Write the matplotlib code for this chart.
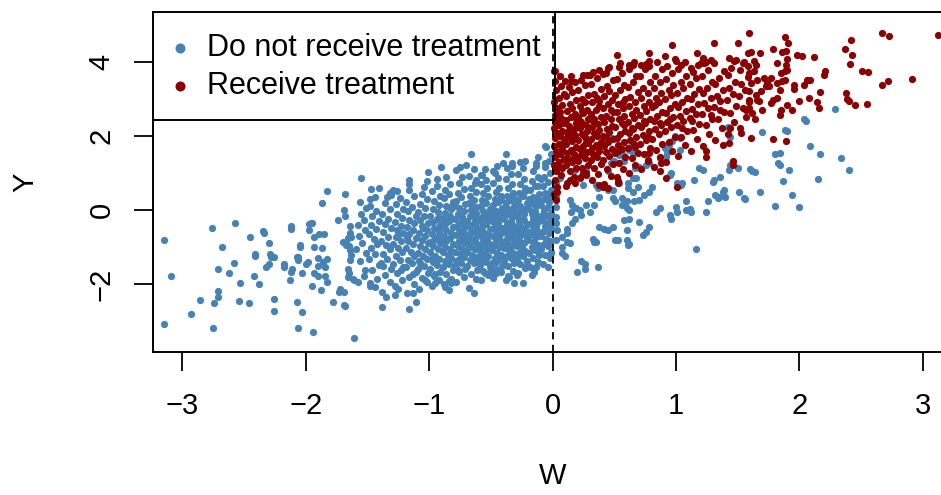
import numpy as np
import matplotlib
matplotlib.use('Agg')
import matplotlib.pyplot as plt

plt.rcParams['font.family'] = ['Liberation Sans', 'DejaVu Sans']

# ---------------------------------------------------------
# DATA ((W, Y) pairs)
# ---------------------------------------------------------
blue_left_tail = [
    (-3.15, -0.80), (-2.76, -0.48), (-2.57, -0.35), (-2.68, -1.01), (-2.45, -0.73), (-2.34, -0.61),
    (-2.30, -0.88), (-2.12, -0.50), (-2.05, -1.01), (-1.83, 0.51), (-1.68, 0.43), (-1.87, 0.19),
    (-1.69, -0.01), (-1.68, -0.17), (-1.74, -0.27), (-1.97, -0.38), (-1.95, -0.34), (-1.97, -0.55),
    (-1.93, -0.72), (-1.89, -0.66), (-1.85, -0.64), (-1.64, -0.44), (-1.64, -0.63), (-1.66, -0.76),
    (-1.70, -0.85), (-1.67, -0.95), (-1.63, -0.72), (-1.93, -1.01), (-1.87, -1.03),
    (-3.09, -1.78), (-3.15, -3.08), (-2.93, -2.80), (-2.86, -2.42), (-2.74, -2.52), (-2.71, -2.34),
    (-2.71, -2.19), (-2.71, -1.60), (-2.58, -1.43), (-2.62, -1.70), (-2.53, -1.98), (-2.54, -2.45),
    (-2.46, -2.50), (-2.75, -3.18), (-2.41, -1.25), (-2.42, -1.77), (-2.38, -1.99), (-2.32, -1.54),
    (-2.30, -1.46), (-2.28, -1.27), (-2.26, -1.27), (-2.26, -2.40), (-2.26, -2.73), (-2.18, -1.53),
    (-2.13, -1.89), (-2.12, -1.66), (-2.11, -1.60), (-2.07, -1.26), (-2.06, -1.35), (-2.07, -2.47),
    (-2.03, -2.75), (-2.06, -3.19), (-1.94, -3.30), (-2.03, -1.69), (-2.00, -1.46), (-1.98, -1.40),
    (-1.95, -2.04), (-1.93, -1.69), (-1.90, -1.52), (-1.90, -1.77), (-1.88, -2.17), (-1.90, -1.30),
    (-1.86, -1.41), (-1.84, -1.53), (-1.83, -1.33), (-1.84, -1.77), (-1.83, -1.93), (-1.78, -2.47),
    (-1.72, -2.14), (-1.73, -2.20), (-1.69, -2.20), (-1.69, -2.55), (-1.68, -2.60), (-1.61, -3.45),
    (-1.67, -0.90), (-1.65, -0.98), (-1.64, -1.07), (-1.63, -1.20), (-1.66, -1.60), (-1.65, -1.70),
    (-1.64, -1.35), (-1.66, -1.80), (-1.62, -1.85), (-2.35, -0.57), (-2.29, -1.19), (-2.41, -1.19),
    (-2.06, -1.28), (-2.05, -0.94), (-2.12, -0.44), (-1.96, -0.35), (-2.18, -1.46),
]

blue_core = [
    (-1.58, -1.95), (-1.52, -1.62), (-1.56, -1.38), (-1.51, -1.15), (-1.59, -1.05), (-1.54, -0.88),
    (-1.57, -0.71), (-1.52, -0.55), (-1.58, -0.40), (-1.53, -0.28), (-1.55, -0.12), (-1.51, 0.05),
    (-1.56, 0.22), (-1.53, -1.78),
    (-1.48, -2.05), (-1.42, -1.85), (-1.46, -1.62), (-1.41, -1.48), (-1.49, -1.31), (-1.44, -1.19),
    (-1.47, -1.02), (-1.42, -0.93), (-1.45, -0.78), (-1.49, -0.65), (-1.43, -0.52), (-1.47, -0.41),
    (-1.41, -0.30), (-1.46, -0.16), (-1.43, -0.03), (-1.48, 0.12), (-1.44, 0.35), (-1.41, 0.58),
    (-1.38, -2.22), (-1.32, -1.95), (-1.36, -1.74), (-1.31, -1.58), (-1.39, -1.44), (-1.34, -1.33),
    (-1.37, -1.18), (-1.32, -1.06), (-1.35, -0.94), (-1.39, -0.83), (-1.33, -0.72), (-1.37, -0.60),
    (-1.31, -0.48), (-1.36, -0.37), (-1.33, -0.24), (-1.38, -0.11), (-1.32, 0.02), (-1.36, 0.18),
    (-1.31, 0.40), (-1.37, -1.52),
    (-1.28, -2.05), (-1.22, -1.88), (-1.26, -1.70), (-1.21, -1.55), (-1.29, -1.45), (-1.24, -1.36),
    (-1.27, -1.24), (-1.22, -1.13), (-1.25, -1.02), (-1.29, -0.92), (-1.23, -0.84), (-1.27, -0.73),
    (-1.21, -0.63), (-1.26, -0.54), (-1.23, -0.43), (-1.28, -0.33), (-1.22, -0.22), (-1.26, -0.10),
    (-1.21, 0.03), (-1.27, 0.15), (-1.24, 0.32), (-1.29, 0.55), (-1.23, -1.62), (-1.25, -0.68),
    (-1.18, -2.25), (-1.12, -2.00), (-1.16, -1.80), (-1.11, -1.66), (-1.19, -1.55), (-1.14, -1.44),
    (-1.17, -1.34), (-1.12, -1.23), (-1.15, -1.12), (-1.19, -1.02), (-1.13, -0.93), (-1.17, -0.84),
    (-1.11, -0.75), (-1.16, -0.65), (-1.13, -0.55), (-1.18, -0.46), (-1.12, -0.36), (-1.16, -0.26),
    (-1.11, -0.15), (-1.17, -0.04), (-1.14, 0.08), (-1.19, 0.22), (-1.12, 0.38), (-1.16, 0.55),
    (-1.13, -1.72), (-1.18, -0.72),
    (-1.08, -2.12), (-1.02, -1.95), (-1.06, -1.82), (-1.01, -1.70), (-1.09, -1.60), (-1.04, -1.51),
    (-1.07, -1.42), (-1.02, -1.33), (-1.05, -1.24), (-1.09, -1.15), (-1.03, -1.06), (-1.07, -0.97),
    (-1.01, -0.89), (-1.06, -0.80), (-1.03, -0.71), (-1.08, -0.62), (-1.02, -0.53), (-1.06, -0.44),
    (-1.01, -0.35), (-1.07, -0.26), (-1.04, -0.16), (-1.09, -0.06), (-1.03, 0.05), (-1.07, 0.16),
    (-1.02, 0.29), (-1.06, 0.44), (-1.04, 0.62), (-1.08, -1.38), (-1.05, -0.49), (-1.03, -1.88),
    (-0.98, -2.05), (-0.92, -1.90), (-0.96, -1.78), (-0.91, -1.67), (-0.99, -1.58), (-0.94, -1.49),
    (-0.97, -1.40), (-0.92, -1.31), (-0.95, -1.23), (-0.99, -1.14), (-0.93, -1.06), (-0.97, -0.98),
    (-0.91, -0.90), (-0.96, -0.82), (-0.93, -0.74), (-0.98, -0.66), (-0.92, -0.58), (-0.96, -0.49),
    (-0.91, -0.41), (-0.97, -0.33), (-0.94, -0.24), (-0.99, -0.15), (-0.93, -0.06), (-0.97, 0.04),
    (-0.92, 0.14), (-0.96, 0.25), (-0.91, 0.37), (-0.98, 0.50), (-0.94, 0.66), (-0.95, -1.72),
    (-0.93, -0.52), (-0.99, -0.87), (-0.92, -0.18), (-0.97, -1.27),
    (-0.88, -2.00), (-0.82, -1.85), (-0.86, -1.72), (-0.81, -1.62), (-0.89, -1.54), (-0.84, -1.46),
    (-0.87, -1.38), (-0.82, -1.30), (-0.85, -1.22), (-0.89, -1.14), (-0.83, -1.06), (-0.87, -0.99),
    (-0.81, -0.91), (-0.86, -0.84), (-0.83, -0.76), (-0.88, -0.69), (-0.82, -0.61), (-0.86, -0.54),
    (-0.81, -0.46), (-0.87, -0.39), (-0.84, -0.31), (-0.89, -0.23), (-0.83, -0.15), (-0.87, -0.07),
    (-0.82, 0.02), (-0.86, 0.11), (-0.81, 0.21), (-0.88, 0.31), (-0.84, 0.42), (-0.87, 0.55),
    (-0.83, 0.70), (-0.86, 0.88), (-0.84, -1.92), (-0.88, -0.46), (-0.82, -1.10), (-0.86, -0.27),
    (-0.89, -0.80), (-0.83, 0.08),
    (-0.78, -1.95), (-0.72, -1.80), (-0.76, -1.68), (-0.71, -1.58), (-0.79, -1.50), (-0.74, -1.42),
    (-0.77, -1.34), (-0.72, -1.27), (-0.75, -1.19), (-0.79, -1.12), (-0.73, -1.04), (-0.77, -0.97),
    (-0.71, -0.90), (-0.76, -0.83), (-0.73, -0.75), (-0.78, -0.68), (-0.72, -0.61), (-0.76, -0.54),
    (-0.71, -0.47), (-0.77, -0.40), (-0.74, -0.32), (-0.79, -0.25), (-0.73, -0.18), (-0.77, -0.10),
    (-0.72, -0.02), (-0.76, 0.06), (-0.71, 0.15), (-0.78, 0.24), (-0.74, 0.34), (-0.77, 0.45),
    (-0.72, 0.57), (-0.76, 0.72), (-0.73, 0.90), (-0.78, -1.38), (-0.72, -0.86), (-0.75, -0.36),
    (-0.79, 0.10), (-0.71, -1.15), (-0.74, -0.58), (-0.77, -1.62),
    (-0.68, -2.10), (-0.62, -1.86), (-0.66, -1.72), (-0.61, -1.62), (-0.69, -1.52), (-0.64, -1.44),
    (-0.67, -1.36), (-0.62, -1.28), (-0.65, -1.20), (-0.69, -1.13), (-0.63, -1.06), (-0.67, -0.99),
    (-0.61, -0.92), (-0.66, -0.85), (-0.63, -0.78), (-0.68, -0.71), (-0.62, -0.64), (-0.66, -0.57),
    (-0.61, -0.50), (-0.67, -0.43), (-0.64, -0.36), (-0.69, -0.29), (-0.63, -0.22), (-0.67, -0.15),
    (-0.62, -0.07), (-0.66, 0.01), (-0.61, 0.09), (-0.68, 0.18), (-0.64, 0.27), (-0.67, 0.37),
    (-0.62, 0.48), (-0.66, 0.60), (-0.63, 0.74), (-0.68, 0.92), (-0.64, 1.10), (-0.61, -1.40),
    (-0.69, -0.82), (-0.63, -0.40), (-0.65, 0.12), (-0.68, -1.00), (-0.62, -0.18),
    (-0.58, -1.90), (-0.52, -1.75), (-0.56, -1.64), (-0.51, -1.55), (-0.59, -1.47), (-0.54, -1.40),
    (-0.57, -1.32), (-0.52, -1.25), (-0.55, -1.18), (-0.59, -1.11), (-0.53, -1.04), (-0.57, -0.97),
    (-0.51, -0.91), (-0.56, -0.84), (-0.53, -0.77), (-0.58, -0.71), (-0.52, -0.64), (-0.56, -0.58),
    (-0.51, -0.51), (-0.57, -0.45), (-0.54, -0.38), (-0.59, -0.31), (-0.53, -0.25), (-0.57, -0.18),
    (-0.52, -0.11), (-0.56, -0.04), (-0.51, 0.03), (-0.58, 0.11), (-0.54, 0.19), (-0.57, 0.28),
    (-0.52, 0.37), (-0.56, 0.47), (-0.53, 0.58), (-0.58, 0.70), (-0.54, 0.82), (-0.57, 0.95),
    (-0.55, 1.10), (-0.51, -1.70), (-0.58, -1.20), (-0.53, -0.88), (-0.59, -0.50), (-0.52, -0.20),
    (-0.55, 0.22), (-0.56, -1.34),
    (-0.48, -1.82), (-0.42, -1.68), (-0.46, -1.58), (-0.41, -1.50), (-0.49, -1.43), (-0.44, -1.36),
    (-0.47, -1.29), (-0.42, -1.22), (-0.45, -1.15), (-0.49, -1.08), (-0.43, -1.01), (-0.47, -0.95),
    (-0.41, -0.88), (-0.46, -0.82), (-0.43, -0.75), (-0.48, -0.69), (-0.42, -0.62), (-0.46, -0.56),
    (-0.41, -0.49), (-0.47, -0.43), (-0.44, -0.36), (-0.49, -0.30), (-0.43, -0.23), (-0.47, -0.16),
    (-0.42, -0.09), (-0.46, -0.02), (-0.41, 0.05), (-0.48, 0.13), (-0.44, 0.21), (-0.47, 0.30),
    (-0.42, 0.39), (-0.46, 0.49), (-0.43, 0.60), (-0.48, 0.72), (-0.44, 0.85), (-0.47, 1.00),
    (-0.45, 1.18), (-0.41, -1.28), (-0.48, -0.98), (-0.43, -0.52), (-0.49, -0.08), (-0.42, 0.28),
    (-0.45, -0.70), (-0.46, -1.40),
    (-0.38, -1.90), (-0.32, -1.64), (-0.36, -1.52), (-0.31, -1.44), (-0.39, -1.37), (-0.34, -1.30),
    (-0.37, -1.23), (-0.32, -1.16), (-0.35, -1.09), (-0.39, -1.02), (-0.33, -0.96), (-0.37, -0.89),
    (-0.31, -0.83), (-0.36, -0.76), (-0.33, -0.70), (-0.38, -0.63), (-0.32, -0.57), (-0.36, -0.50),
    (-0.31, -0.44), (-0.37, -0.37), (-0.34, -0.31), (-0.39, -0.24), (-0.33, -0.18), (-0.37, -0.11),
    (-0.32, -0.04), (-0.36, 0.03), (-0.31, 0.11), (-0.38, 0.19), (-0.34, 0.28), (-0.37, 0.37),
    (-0.32, 0.47), (-0.36, 0.58), (-0.33, 0.70), (-0.38, 0.83), (-0.34, 0.97), (-0.37, 1.12),
    (-0.33, 1.28), (-0.31, -1.20), (-0.38, -0.82), (-0.33, -0.44), (-0.39, 0.00), (-0.32, 0.36),
    (-0.35, -0.60), (-0.36, -1.78),
    (-0.28, -1.70), (-0.22, -1.56), (-0.26, -1.46), (-0.21, -1.38), (-0.29, -1.31), (-0.24, -1.24),
    (-0.27, -1.17), (-0.22, -1.10), (-0.25, -1.03), (-0.29, -0.96), (-0.23, -0.90), (-0.27, -0.83),
    (-0.21, -0.76), (-0.26, -0.70), (-0.23, -0.63), (-0.28, -0.57), (-0.22, -0.50), (-0.26, -0.44),
    (-0.21, -0.37), (-0.27, -0.31), (-0.24, -0.24), (-0.29, -0.17), (-0.23, -0.10), (-0.27, -0.04),
    (-0.22, 0.03), (-0.26, 0.11), (-0.21, 0.19), (-0.28, 0.28), (-0.24, 0.37), (-0.27, 0.47),
    (-0.22, 0.58), (-0.26, 0.70), (-0.23, 0.83), (-0.28, 0.97), (-0.24, 1.12), (-0.21, -1.48),
    (-0.28, -0.70), (-0.23, -0.28), (-0.29, 0.16), (-0.22, 0.50), (-0.25, -0.90), (-0.26, 1.30),
    (-0.18, -1.55), (-0.12, -1.40), (-0.16, -1.30), (-0.11, -1.22), (-0.19, -1.15), (-0.14, -1.08),
    (-0.17, -1.01), (-0.12, -0.94), (-0.15, -0.87), (-0.19, -0.80), (-0.13, -0.73), (-0.17, -0.66),
    (-0.11, -0.60), (-0.16, -0.53), (-0.13, -0.46), (-0.18, -0.39), (-0.12, -0.32), (-0.16, -0.25),
    (-0.11, -0.18), (-0.17, -0.11), (-0.14, -0.04), (-0.19, 0.03), (-0.13, 0.10), (-0.17, 0.18),
    (-0.12, 0.26), (-0.16, 0.35), (-0.11, 0.44), (-0.18, 0.54), (-0.14, 0.65), (-0.17, 0.77),
    (-0.12, 0.90), (-0.16, 1.04), (-0.13, 1.18), (-0.11, -0.98), (-0.18, -0.58), (-0.13, -0.14),
    (-0.19, 0.30), (-0.12, 0.66), (-0.15, -1.68), (-0.16, -0.36),
    (-0.08, -1.45), (-0.02, -1.30), (-0.06, -1.20), (-0.01, -1.12), (-0.09, -1.05), (-0.04, -0.98),
    (-0.07, -0.91), (-0.02, -0.84), (-0.05, -0.77), (-0.09, -0.70), (-0.03, -0.63), (-0.07, -0.56),
    (-0.01, -0.49), (-0.06, -0.42), (-0.03, -0.35), (-0.08, -0.28), (-0.02, -0.21), (-0.06, -0.14),
    (-0.01, -0.07), (-0.07, 0.00), (-0.04, 0.07), (-0.09, 0.14), (-0.03, 0.21), (-0.07, 0.29),
    (-0.02, 0.37), (-0.06, 0.46), (-0.01, 0.55), (-0.08, 0.65), (-0.04, 0.76), (-0.07, 0.88),
    (-0.02, 1.01), (-0.06, 1.15), (-0.03, 1.32), (-0.01, 1.52), (-0.05, 1.70), (-0.02, -0.60),
    (-0.08, -0.10), (-0.03, 0.40), (-0.09, 0.84), (-0.04, -1.55),
]

blue_core_edges = [
    (-1.55, 0.87), (-1.47, 0.56), (-1.48, 0.29), (-1.34, 0.36), (-1.32, 0.45), (-1.26, 0.51),
    (-1.16, 0.81), (-1.16, 0.69), (-1.01, 1.02), (-1.02, 0.78), (-0.94, 0.83), (-0.90, 1.17),
    (-0.78, 1.08), (-0.75, 1.17), (-0.70, 1.22), (-0.66, 1.52), (-0.58, 0.95), (-0.62, 0.81),
    (-0.48, 1.06), (-0.40, 1.26), (-0.38, 1.51), (-0.33, 1.19), (-0.22, 1.33), (-0.12, 1.44),
    (-0.06, 1.26), (-0.06, 1.73), (-0.13, 1.26),
    (-1.38, -2.61), (-1.35, -2.34), (-1.28, -2.30), (-1.16, -2.68), (-1.11, -2.48), (-1.13, -2.25),
    (-1.25, -2.12), (-0.95, -1.96), (-0.84, -2.16), (-0.87, -2.07), (-0.82, -1.98), (-0.64, -2.25),
    (-0.31, -1.98), (-0.24, -1.98), (-0.35, -1.80), (-0.29, -1.76), (-0.17, -1.76), (-0.13, -1.53),
    (-0.55, -1.71), (-0.51, -1.67), (-0.46, -1.71), (-1.48, -1.98), (-1.44, -2.07), (-1.61, -1.89),
]

blue_right = [
    (0.18, 1.40), (0.18, 1.08), (0.06, 0.86), (0.02, 0.68), (0.02, 0.49), (0.22, 0.90), (0.27, 1.04),
    (0.25, 0.68), (0.35, 0.68), (0.37, 0.59), (0.45, 0.54), (0.38, 0.36), (0.49, 0.32), (0.51, 0.23),
    (0.56, 0.14), (0.14, 0.27), (0.16, 0.14), (0.19, 0.05), (0.15, -0.05), (0.18, -0.23), (0.16, -0.36),
    (0.12, -0.50), (0.12, -0.63), (0.08, -0.72), (0.08, -0.99), (0.22, 0.00), (0.23, -0.14), (0.27, 0.14),
    (0.30, -0.05), (0.34, 0.14), (0.03, 0.76), (0.03, 0.36), (0.03, 0.09), (0.03, -0.18), (0.03, -0.36),
    (0.04, -0.54), (0.03, -0.81), (0.38, -0.45), (0.42, -0.50), (0.45, -0.54), (0.49, -0.45),
    (0.35, -0.86), (0.51, -0.81), (0.60, -0.54), (0.60, -0.81), (0.61, -0.95), (0.58, -0.27),
    (0.62, -0.23), (0.70, -0.32), (0.78, -0.45), (0.76, -0.59), (0.73, -0.68), (0.60, 0.05),
    (0.62, 0.00), (0.66, 0.23), (0.70, 0.27), (0.74, 0.41), (0.78, 0.49), (0.81, 0.63), (0.84, -0.05),
    (0.87, 0.05), (0.95, -0.14), (0.96, -0.23), (1.00, 0.09), (1.01, -0.05), (1.08, 0.23), (1.08, 0.00),
    (1.12, -0.05), (1.16, -1.04), (1.24, -0.05), (1.26, 0.23), (1.32, 0.41), (1.34, 0.32), (1.38, 0.49),
    (1.39, 0.54), (1.35, 0.36), (1.40, 0.36), (1.51, 0.49), (1.55, 0.32), (1.30, 0.76), (1.31, 0.81),
    (1.36, 0.90), (1.15, 0.81), (1.19, 1.13), (1.22, 1.08), (1.43, 1.08), (1.44, 1.22), (1.50, 1.13),
    (1.01, 0.72), (1.04, 0.68), (1.05, 0.72), (0.95, 0.95), (0.96, 0.99), (0.92, 1.44), (1.03, 1.94),
    (0.49, 0.54), (0.54, 0.72), (0.61, 0.72), (0.65, 0.86), (0.68, 0.86), (0.69, 0.63), (0.61, 0.59),
    (0.65, 0.49), (0.56, 0.32), (0.60, 0.23), (0.45, 1.04), (0.47, 1.26), (0.50, 1.31), (0.54, 1.49),
    (0.58, 1.31), (0.64, 1.80), (0.65, 1.53), (0.70, 1.17), (0.76, 1.22), (0.78, 1.26), (0.87, 1.40),
    (0.91, 1.67), (0.93, 1.53), (0.97, 1.85), (1.03, 1.62), (-0.01, -1.15), (0.08, -1.17), (0.10, -1.24),
    (0.12, -0.86), (0.14, -0.90), (0.23, -1.37), (0.20, -1.67), (0.26, -1.58), (0.37, -1.55),
    (0.34, -0.86), (0.53, -0.81), (0.62, -0.93), (0.33, -0.78), (0.26, -1.46),
    (2.29, 2.72), (2.05, 2.41), (1.70, 2.10), (1.90, 2.12), (2.09, 1.73), (2.17, 1.51), (2.34, 1.39),
    (2.40, 1.07), (1.80, 1.51), (1.84, 1.20), (1.92, 1.07), (1.60, 1.11), (1.62, 1.06), (1.64, 1.03),
    (1.87, 0.78), (2.15, 0.84), (1.68, 0.49), (1.94, 0.40), (1.56, 0.29), (1.80, 0.11), (2.00, 0.07),
    (0.48, 1.93), (0.62, 1.62), (0.57, 1.49), (0.67, 1.13), (0.94, 1.75), (0.99, 2.00), (1.42, 2.24),
    (1.44, 1.96), (1.88, 2.16), (2.04, 2.46), (1.11, 0.04), (1.83, 1.27), (1.84, 1.54),
]

red_core = [
    (0.01, 0.42), (0.04, 0.62), (0.02, 0.80), (0.07, 0.95), (0.03, 1.05), (0.08, 1.14), (0.01, 1.22),
    (0.05, 1.30), (0.09, 1.37), (0.02, 1.44), (0.06, 1.51), (0.03, 1.58), (0.08, 1.65), (0.01, 1.72),
    (0.05, 1.79), (0.09, 1.86), (0.02, 1.93), (0.06, 2.00), (0.04, 2.07), (0.08, 2.14), (0.01, 2.21),
    (0.05, 2.28), (0.09, 2.35), (0.03, 2.42), (0.07, 2.49), (0.02, 2.57), (0.06, 2.65), (0.04, 2.74),
    (0.08, 2.83), (0.01, 2.92), (0.05, 3.02), (0.09, 3.12), (0.03, 3.23), (0.07, 3.35), (0.02, 3.48),
    (0.06, 3.62), (0.01, 3.76), (0.04, 1.18), (0.07, 1.76), (0.03, 2.32),
    (0.12, 0.72), (0.17, 0.90), (0.14, 1.04), (0.19, 1.14), (0.11, 1.22), (0.16, 1.30), (0.13, 1.38),
    (0.18, 1.46), (0.12, 1.54), (0.15, 1.62), (0.19, 1.70), (0.11, 1.78), (0.16, 1.86), (0.14, 1.94),
    (0.18, 2.02), (0.12, 2.10), (0.17, 2.18), (0.13, 2.26), (0.19, 2.34), (0.11, 2.42), (0.15, 2.50),
    (0.18, 2.58), (0.12, 2.67), (0.16, 2.76), (0.14, 2.86), (0.19, 2.96), (0.11, 3.07), (0.16, 3.19),
    (0.13, 3.32), (0.18, 3.46), (0.15, 3.60), (0.17, 1.50), (0.12, 1.98), (0.19, 2.48), (0.14, 2.10),
    (0.22, 0.85), (0.27, 1.00), (0.24, 1.12), (0.29, 1.22), (0.21, 1.31), (0.26, 1.40), (0.23, 1.48),
    (0.28, 1.56), (0.22, 1.64), (0.25, 1.72), (0.29, 1.80), (0.21, 1.88), (0.26, 1.96), (0.24, 2.04),
    (0.28, 2.12), (0.22, 2.20), (0.27, 2.28), (0.23, 2.36), (0.29, 2.44), (0.21, 2.52), (0.25, 2.61),
    (0.28, 2.70), (0.22, 2.80), (0.26, 2.90), (0.24, 3.00), (0.29, 3.11), (0.21, 3.23), (0.26, 3.36),
    (0.23, 3.50), (0.28, 3.64), (0.25, 1.60), (0.22, 2.40), (0.27, 1.84), (0.24, 2.66),
    (0.32, 0.80), (0.37, 0.98), (0.34, 1.12), (0.39, 1.24), (0.31, 1.34), (0.36, 1.43), (0.33, 1.52),
    (0.38, 1.60), (0.32, 1.68), (0.35, 1.76), (0.39, 1.84), (0.31, 1.92), (0.36, 2.00), (0.34, 2.08),
    (0.38, 2.16), (0.32, 2.24), (0.37, 2.32), (0.33, 2.41), (0.39, 2.50), (0.31, 2.59), (0.35, 2.69),
    (0.38, 2.79), (0.32, 2.90), (0.36, 3.01), (0.34, 3.13), (0.39, 3.26), (0.31, 3.40), (0.36, 3.56),
    (0.33, 3.72), (0.37, 1.70), (0.34, 2.46), (0.38, 2.95),
    (0.42, 0.70), (0.47, 0.92), (0.44, 1.10), (0.49, 1.24), (0.41, 1.36), (0.46, 1.46), (0.43, 1.55),
    (0.48, 1.64), (0.42, 1.73), (0.45, 1.82), (0.49, 1.91), (0.41, 2.00), (0.46, 2.09), (0.44, 2.18),
    (0.48, 2.27), (0.42, 2.36), (0.47, 2.45), (0.43, 2.54), (0.49, 2.64), (0.41, 2.74), (0.45, 2.85),
    (0.48, 2.96), (0.42, 3.08), (0.46, 3.21), (0.44, 3.35), (0.49, 3.50), (0.41, 3.66), (0.46, 3.86),
    (0.43, 1.96), (0.47, 2.70),
    (0.52, 0.88), (0.57, 1.10), (0.54, 1.28), (0.59, 1.42), (0.51, 1.54), (0.56, 1.64), (0.53, 1.74),
    (0.58, 1.84), (0.52, 1.94), (0.55, 2.04), (0.59, 2.14), (0.51, 2.24), (0.56, 2.34), (0.54, 2.44),
    (0.58, 2.54), (0.52, 2.64), (0.57, 2.75), (0.53, 2.86), (0.59, 2.98), (0.51, 3.10), (0.55, 3.23),
    (0.58, 3.37), (0.52, 3.52), (0.56, 3.68), (0.54, 3.86), (0.58, 2.30), (0.53, 1.60), (0.57, 2.90),
    (0.62, 1.00), (0.67, 1.22), (0.64, 1.40), (0.69, 1.54), (0.61, 1.66), (0.66, 1.77), (0.63, 1.88),
    (0.68, 1.98), (0.62, 2.08), (0.65, 2.18), (0.69, 2.28), (0.61, 2.38), (0.66, 2.48), (0.64, 2.58),
    (0.68, 2.69), (0.62, 2.80), (0.67, 2.92), (0.63, 3.04), (0.69, 3.17), (0.61, 3.31), (0.65, 3.46),
    (0.68, 3.62), (0.62, 3.80), (0.66, 4.00), (0.64, 2.22), (0.67, 1.70),
    (0.72, 1.10), (0.77, 1.34), (0.74, 1.52), (0.79, 1.66), (0.71, 1.78), (0.76, 1.90), (0.73, 2.01),
    (0.78, 2.12), (0.72, 2.23), (0.75, 2.34), (0.79, 2.45), (0.71, 2.56), (0.76, 2.67), (0.74, 2.79),
    (0.78, 2.91), (0.72, 3.03), (0.77, 3.16), (0.73, 3.30), (0.79, 3.45), (0.71, 3.62), (0.75, 3.80),
    (0.78, 4.02), (0.74, 2.40), (0.77, 1.96),
    (0.82, 1.15), (0.87, 1.42), (0.84, 1.62), (0.89, 1.78), (0.81, 1.92), (0.86, 2.05), (0.83, 2.17),
    (0.88, 2.29), (0.82, 2.41), (0.85, 2.53), (0.89, 2.65), (0.81, 2.77), (0.86, 2.90), (0.84, 3.03),
    (0.88, 3.16), (0.82, 3.30), (0.87, 3.45), (0.83, 3.62), (0.89, 3.80), (0.85, 4.00), (0.87, 2.35),
    (0.83, 2.84),
    (0.92, 1.30), (0.97, 1.60), (0.94, 1.82), (0.99, 1.98), (0.91, 2.12), (0.96, 2.25), (0.93, 2.38),
    (0.98, 2.50), (0.92, 2.62), (0.95, 2.74), (0.99, 2.86), (0.91, 2.98), (0.96, 3.11), (0.94, 3.24),
    (0.98, 3.38), (0.92, 3.53), (0.97, 3.70), (0.93, 3.88), (0.99, 4.08), (0.95, 2.45),
    (1.02, 1.45), (1.07, 1.75), (1.04, 1.98), (1.09, 2.14), (1.01, 2.28), (1.06, 2.41), (1.03, 2.54),
    (1.08, 2.66), (1.02, 2.78), (1.05, 2.90), (1.09, 3.03), (1.01, 3.16), (1.06, 3.30), (1.04, 3.45),
    (1.08, 3.61), (1.02, 3.79), (1.07, 3.98), (1.05, 2.20),
    (1.12, 1.60), (1.17, 1.92), (1.14, 2.15), (1.19, 2.32), (1.11, 2.47), (1.16, 2.60), (1.13, 2.73),
    (1.18, 2.86), (1.12, 2.99), (1.15, 3.12), (1.19, 3.26), (1.11, 3.40), (1.16, 3.56), (1.14, 3.72),
    (1.18, 3.92), (1.13, 2.40),
    (1.22, 1.72), (1.27, 2.05), (1.24, 2.28), (1.29, 2.45), (1.21, 2.60), (1.26, 2.74), (1.23, 2.88),
    (1.28, 3.02), (1.22, 3.16), (1.25, 3.30), (1.29, 3.45), (1.21, 3.61), (1.26, 3.78), (1.24, 3.98),
    (1.28, 2.55),
    (1.32, 1.90), (1.37, 2.22), (1.34, 2.45), (1.39, 2.63), (1.31, 2.78), (1.36, 2.93), (1.33, 3.08),
    (1.38, 3.23), (1.32, 3.39), (1.35, 3.56), (1.39, 3.75), (1.31, 3.95), (1.36, 2.70),
    (1.42, 2.05), (1.47, 2.38), (1.44, 2.62), (1.49, 2.80), (1.41, 2.96), (1.46, 3.12), (1.43, 3.28),
    (1.48, 3.45), (1.42, 3.63), (1.45, 3.82), (1.49, 4.05), (1.44, 2.20),
    (1.52, 2.20), (1.57, 2.52), (1.54, 2.75), (1.59, 2.92), (1.51, 3.08), (1.56, 3.24), (1.53, 3.40),
    (1.58, 3.58), (1.52, 3.78), (1.55, 4.00),
]

red_edges = [
    (1.31, 4.50), (1.50, 4.49), (0.97, 4.44), (0.78, 4.22), (0.52, 4.17), (0.91, 4.14), (1.17, 4.22),
    (1.22, 4.10), (1.28, 4.05), (1.20, 3.96), (1.43, 4.10), (1.47, 4.01), (1.54, 3.96), (1.58, 4.23),
    (0.55, 3.96), (0.62, 3.92), (0.65, 3.92), (0.72, 3.92), (0.76, 3.94), (0.78, 3.87), (1.00, 4.01),
    (1.04, 3.92), (1.12, 3.83), (1.23, 3.96), (0.02, 3.74), (0.10, 3.47), (0.15, 3.47), (0.25, 3.65),
    (0.30, 3.65), (0.38, 3.78), (0.45, 3.83), (0.43, 3.69),
    (0.14, 0.81), (0.18, 0.72), (0.25, 0.99), (0.27, 0.95), (0.41, 0.63), (0.45, 0.59), (0.53, 0.72),
    (0.77, 1.31), (0.78, 1.53), (0.87, 1.04), (0.88, 1.26), (0.92, 0.86), (1.01, 0.63), (1.24, 1.58),
    (1.24, 1.44), (1.38, 1.76), (1.43, 1.80), (1.46, 1.31), (1.46, 1.22), (1.53, 2.07), (0.03, 0.27),
    (0.04, 0.49), (1.61, 1.94), (1.79, 1.91), (1.89, 1.85), (0.11, 0.64), (0.38, 0.68), (0.53, 0.77),
]

red_right = [
    (1.59, 4.78), (1.88, 4.67), (1.91, 4.51), (1.61, 4.25), (1.68, 4.23), (1.79, 4.34), (1.86, 4.25),
    (1.89, 4.28), (1.98, 4.19), (2.02, 4.14), (2.12, 4.12), (1.90, 4.07), (1.82, 3.96), (1.89, 3.92),
    (1.90, 3.78), (1.85, 3.69), (1.88, 3.74), (1.58, 3.87), (1.63, 4.01), (1.65, 3.92), (1.63, 3.74),
    (1.59, 3.69), (1.61, 3.42), (1.66, 3.51), (1.71, 3.56), (1.77, 3.56), (1.59, 3.20), (1.65, 3.11),
    (1.66, 2.97), (1.69, 3.20), (1.73, 3.33), (1.74, 3.42), (1.75, 3.33), (1.82, 3.42), (1.86, 3.47),
    (1.88, 3.51), (1.84, 3.24), (1.79, 2.97), (1.82, 3.02), (1.77, 2.88), (1.67, 2.93), (1.59, 2.97),
    (1.57, 2.70), (1.62, 2.61), (1.59, 2.75), (1.70, 2.70), (1.85, 2.70), (1.84, 2.57), (1.90, 2.84),
    (1.94, 2.70), (2.00, 2.95), (2.08, 3.02), (2.06, 3.51), (2.04, 3.36), (2.16, 2.75), (2.14, 2.90),
    (2.17, 3.17), (1.96, 3.38), (1.96, 3.27), (2.20, 3.65), (2.21, 3.74), (2.09, 3.51), (1.64, 2.45),
    (2.37, 4.35), (2.42, 4.57), (2.43, 4.19), (2.41, 3.94), (2.51, 3.76), (2.56, 3.71), (2.38, 3.15),
    (2.39, 2.99), (2.40, 2.93), (2.45, 2.84), (2.55, 2.86), (2.67, 3.38), (2.72, 3.49), (2.67, 4.76),
    (2.73, 4.68), (2.91, 3.54), (3.12, 4.73),
]

legend_labels = ['Do not receive treatment', 'Receive treatment']
x_ticks = [-3, -2, -1, 0, 1, 2, 3]
y_ticks = [-2, 0, 2, 4]

blue = np.array(blue_left_tail + blue_core + blue_core_edges + blue_right)
red = np.array(red_core + red_edges + red_right)

col_blue = '#4682B4'
col_red = '#8B0000'

# ---------------------------------------------------------
# PLOT
# ---------------------------------------------------------
fig = plt.figure(figsize=(9.41, 4.95), dpi=100)
ax = fig.add_axes([152.7 / 941, 1 - 352.3 / 495, (943 - 152.7) / 941, (352.3 - 12) / 495])

ax.scatter(blue[:, 0], blue[:, 1], s=27, color=col_blue, linewidths=0, zorder=2)
ax.scatter(red[:, 0], red[:, 1], s=27, color=col_red, linewidths=0, zorder=3)
ax.axvline(0, color='black', linestyle=(0, (4, 3)), linewidth=1.3, zorder=4)

ax.set_xlim(-3.240, 3.164)
ax.set_ylim(-3.836, 5.337)
ax.set_xticks(x_ticks)
ax.set_yticks(y_ticks)
ax.tick_params(axis='both', direction='out', length=13.7, width=1.3, labelsize=21, colors='black')
ax.tick_params(axis='x', pad=15)
ax.tick_params(axis='y', pad=13)
for lab in ax.get_yticklabels():
    lab.set_rotation(90)
    lab.set_va('center')
for sp in ax.spines.values():
    sp.set_linewidth(1.4)

# legend box drawn by hand (R style, top-left)
lx1, ly0 = (555 - 152.7) / (943 - 152.7), (352.3 - 120) / 340.3
ax.plot([0, lx1, lx1], [ly0, ly0, 1], color='black', linewidth=1.4, transform=ax.transAxes,
        clip_on=False, zorder=5)
rows = [(352.3 - 48) / 340.3, (352.3 - 86) / 340.3]
for lab, col, yy in zip(legend_labels, [col_blue, col_red], rows):
    ax.plot([(180 - 152.7) / 790.3], [yy], 'o', color=col, markersize=7.2, markeredgewidth=0,
            transform=ax.transAxes, zorder=5)
    ax.text((207 - 152.7) / 790.3, yy, lab, fontsize=22, va='center', ha='left',
            transform=ax.transAxes, zorder=5)

fig.text(552.5 / 941, 1 - 476 / 495, 'W', fontsize=21, ha='center', va='center')
fig.text(25 / 941, 1 - 182 / 495, 'Y', fontsize=21, ha='center', va='center', rotation=90)

fig.savefig('out.png', dpi=100)
